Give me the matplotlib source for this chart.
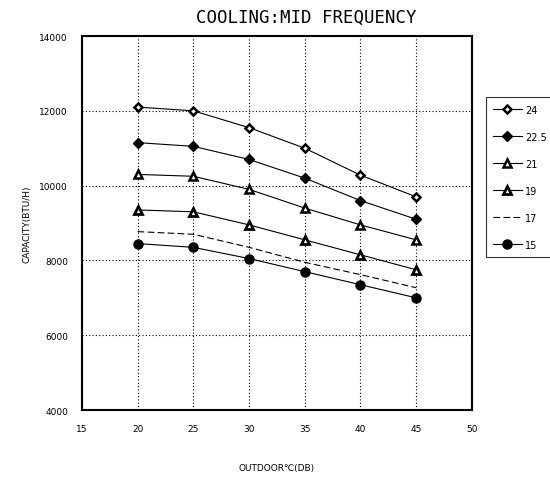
import matplotlib
matplotlib.use("Agg")
import matplotlib.pyplot as plt

outdoor = [20, 25, 30, 35, 40, 45]
series_labels = ["24", "22.5", "21", "19", "17", "15"]
cap_24 = [12100, 12000, 11550, 11000, 10280, 9700]
cap_22_5 = [11150, 11050, 10700, 10200, 9600, 9100]
cap_21 = [10300, 10250, 9900, 9400, 8950, 8550]
cap_19 = [9350, 9300, 8950, 8550, 8150, 7750]
cap_17 = [8770, 8700, 8350, 7950, 7620, 7270]
cap_15 = [8450, 8350, 8050, 7700, 7350, 7000]
x_ticks = [15, 20, 25, 30, 35, 40, 45, 50]
y_ticks = [4000, 6000, 8000, 10000, 12000, 14000]

fig = plt.figure(figsize=(5.5, 4.81), dpi=100)
ax = fig.add_axes([0.149, 0.1455, 0.709, 0.7775])

styles = [
    dict(marker="D", markersize=4.5, markerfacecolor="white", markeredgecolor="black", markeredgewidth=1.8, linestyle="-"),
    dict(marker="D", markersize=5.5, markerfacecolor="black", markeredgecolor="black", linestyle="-"),
    dict(marker="^", markersize=6, markerfacecolor="white", markeredgecolor="black", markeredgewidth=1.8, linestyle="-"),
    dict(marker="^", markersize=5.5, markerfacecolor="white", markeredgecolor="black", markeredgewidth=2.0, linestyle="-"),
    dict(marker=None, linestyle=(0, (6, 3))),
    dict(marker="o", markersize=6.5, markerfacecolor="black", markeredgecolor="black", linestyle="-"),
]
data = [cap_24, cap_22_5, cap_21, cap_19, cap_17, cap_15]
for vals, lab, st in zip(data, series_labels, styles):
    ax.plot(outdoor, vals, color="black", linewidth=0.8, label=lab, **st)

ax.set_xlim(15, 50)
ax.set_ylim(4000, 14000)
ax.set_xticks(x_ticks)
ax.set_yticks(y_ticks)
ax.tick_params(length=0, labelsize=6.5, pad=10)
ax.grid(True, color="black", linestyle=(0, (1, 2)), linewidth=0.8)
for s in ax.spines.values():
    s.set_linewidth(1.5)

fig.text(306 / 550, 1 - 18 / 481, "COOLING:MID FREQUENCY", fontsize=12.5,
         fontfamily="DejaVu Sans Mono", ha="center", va="center")
ax.set_ylabel("CAPACITY(BTU/H)", fontsize=6.5, labelpad=28)
ax.set_xlabel("OUTDOOR\u2103(DB)", fontsize=6.5, labelpad=22)
ax.yaxis.set_label_coords(-0.13, 0.5)

leg = ax.legend(loc="upper left", bbox_to_anchor=(1.035, 0.836), fontsize=7, frameon=True,
                fancybox=False, edgecolor="black", handlelength=3.0, labelspacing=1.75,
                borderpad=0.75, handletextpad=0.3, borderaxespad=0)
leg.get_frame().set_linewidth(0.8)

fig.savefig("out.png", dpi=100)
